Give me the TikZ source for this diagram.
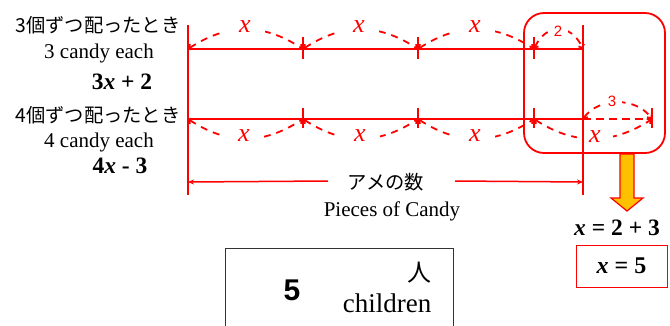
\documentclass[tikz,border=0pt]{standalone}
\usepackage{fontspec}
\setmainfont{Liberation Serif}
\newfontfamily\jpfont{Noto Sans CJK JP}
\newfontfamily\arialfont{Liberation Sans}
\usetikzlibrary{arrows.meta}
\definecolor{myred}{RGB}{255,0,0}
\definecolor{myorange}{RGB}{255,192,0}
\begin{document}
\begin{tikzpicture}[x=1pt,y=-1pt,
  redline/.style={draw=myred, line width=2.6pt},
  tickline/.style={draw=myred, line width=2.2pt},
  arcline/.style={draw=myred, line width=1.8pt, dash pattern=on 7pt off 6pt,
    {Straight Barb[length=3pt,width=6pt]}-{Straight Barb[length=3pt,width=6pt]}},
  dimline/.style={draw=myred, line width=1.5pt, -{Stealth[length=6pt,width=5pt]}},
  xlab/.style={text=myred, font=\fontsize{26}{26}\selectfont\itshape, fill=white, inner xsep=14pt, inner ysep=1pt},
  numlab/.style={text=myred, font=\arialfont\fontsize{15}{15}\selectfont, fill=white, inner xsep=6pt, inner ysep=1pt},
  jptext/.style={font=\jpfont\fontsize{19.3}{19.3}\selectfont, inner sep=0pt},
  entext/.style={font=\fontsize{21}{21}\selectfont, inner sep=0pt},
  eqtext/.style={font=\bfseries\fontsize{23.5}{23.5}\selectfont, inner sep=0pt},
]
\useasboundingbox (0,0) rectangle (670,325);
% key coordinates
\coordinate (Ltop) at (188,25);
\coordinate (Lbot) at (188,195);
\coordinate (Rtop) at (583,25);
\coordinate (Rbot) at (583,195);
\coordinate (A0) at (188,49);
\coordinate (A1) at (303,49);
\coordinate (A2) at (418,49);
\coordinate (A3) at (534,49);
\coordinate (A4) at (583,49);
\coordinate (B0) at (188,119);
\coordinate (B1) at (303,119);
\coordinate (B2) at (418,119);
\coordinate (B3) at (534,119);
\coordinate (B4) at (583,119);
\coordinate (B5) at (652,119);

% rounded box
\draw[draw=myred, line width=1.8pt, rounded corners=20pt] (524,13) rectangle (665,153);

% main lines
\draw[redline] (Ltop) -- (Lbot);
\draw[redline] (Rtop) -- (Rbot);
\draw[redline] (A0) -- (A4);
\draw[redline] (B0) -- (B4);
\draw[redline, dash pattern=on 8pt off 5pt] (B4) -- (B5);

% ticks
\foreach \p in {A1,A2,A3} \draw[tickline] ([yshift=12pt]\p) -- ([yshift=-10pt]\p);
\foreach \p in {B1,B2,B3,B5} \draw[tickline] ([yshift=11pt]\p) -- ([yshift=-9pt]\p);

% top arcs
\draw[arcline] (A0) .. controls ([xshift=40pt,yshift=26pt]A0) and ([xshift=-40pt,yshift=26pt]A1) .. (A1);
\draw[arcline] (A1) .. controls ([xshift=40pt,yshift=26pt]A1) and ([xshift=-40pt,yshift=26pt]A2) .. (A2);
\draw[arcline] (A2) .. controls ([xshift=40pt,yshift=26pt]A2) and ([xshift=-40pt,yshift=26pt]A3) .. (A3);
\draw[arcline] (A3) .. controls ([xshift=12pt,yshift=26pt]A3) and ([xshift=-12pt,yshift=26pt]A4) .. (A4);
\node[xlab] (xa1) at (245,27) {x};
\node[xlab] (xa2) at (359,27) {x};
\node[xlab] (xa3) at (475,27) {x};
\node[numlab] (two) at (558,31) {2};

% bottom arcs
\draw[arcline] (B0) .. controls ([xshift=40pt,yshift=-26pt]B0) and ([xshift=-40pt,yshift=-26pt]B1) .. (B1);
\draw[arcline] (B1) .. controls ([xshift=40pt,yshift=-26pt]B1) and ([xshift=-40pt,yshift=-26pt]B2) .. (B2);
\draw[arcline] (B2) .. controls ([xshift=40pt,yshift=-26pt]B2) and ([xshift=-40pt,yshift=-26pt]B3) .. (B3);
\draw[arcline] (B3) .. controls ([xshift=40pt,yshift=-26pt]B3) and ([xshift=-40pt,yshift=-26pt]B5) .. (B5);
\draw[arcline] (B4) .. controls ([xshift=16pt,yshift=22pt]B4) and ([xshift=-16pt,yshift=22pt]B5) .. (B5);
\node[xlab] (xb1) at (244,136) {x};
\node[xlab] (xb2) at (360,136) {x};
\node[xlab] (xb3) at (475,136) {x};
\node[xlab, fill=white, inner xsep=12pt] (xb4) at (595,137) {x};
\draw[redline] (Rbot |- xb4.north) -- (Rbot |- xb4.south);
\node[numlab] (three) at (612,101) {3};

% left texts
\node[jptext] (j3) at (98,25) {3個ずつ配ったとき};
\node[entext] (e3) at (99,53) {3 candy each};
\node[eqtext] (q3) at (122,82) {3\textit{x} + 2};
\node[jptext] (j4) at (98,115) {4個ずつ配ったとき};
\node[entext] (e4) at (99,142) {4 candy each};
\node[eqtext] (q4) at (120,166) {4\textit{x} - 3};

% pieces of candy dimension
\node[jptext] (ame) at (386,182) {アメの数};
\node[entext] (pieces) at (392,211) {Pieces of Candy};
\draw[dimline] (328,181) -- (Lbot |- ame);
\draw[dimline] (455,181) -- (Rbot |- ame);

% orange arrow
\draw[draw=myred, fill=myorange, line width=1.2pt, line join=miter]
  (620,154) -- (620,198) -- (611,198) -- (627,211) -- (643,198) -- (634,198) -- (634,154) -- cycle;

% equations
\node[eqtext] (eq1) at (617,228) {\textit{x} = 2 + 3};
\node[draw=myred, line width=1pt, minimum width=91pt, minimum height=42pt, inner sep=0pt,
      font=\bfseries\fontsize{24}{24}\selectfont] (eq2) at (621.5,266) {\textit{x} = 5};

% answer box
\node[draw=black!80, line width=1pt, minimum width=228pt, minimum height=100pt, anchor=north west] (ans) at (225,248) {};
\node[font=\arialfont\bfseries\fontsize{30}{30}\selectfont, inner sep=0pt] (five) at (292,290) {5};
\node[font=\jpfont\fontsize{24}{24}\selectfont, inner sep=0pt] (nin) at (419,273) {人};
\node[font=\fontsize{27}{27}\selectfont, inner sep=0pt] (child) at (387,303) {children};
\end{tikzpicture}
\end{document}
